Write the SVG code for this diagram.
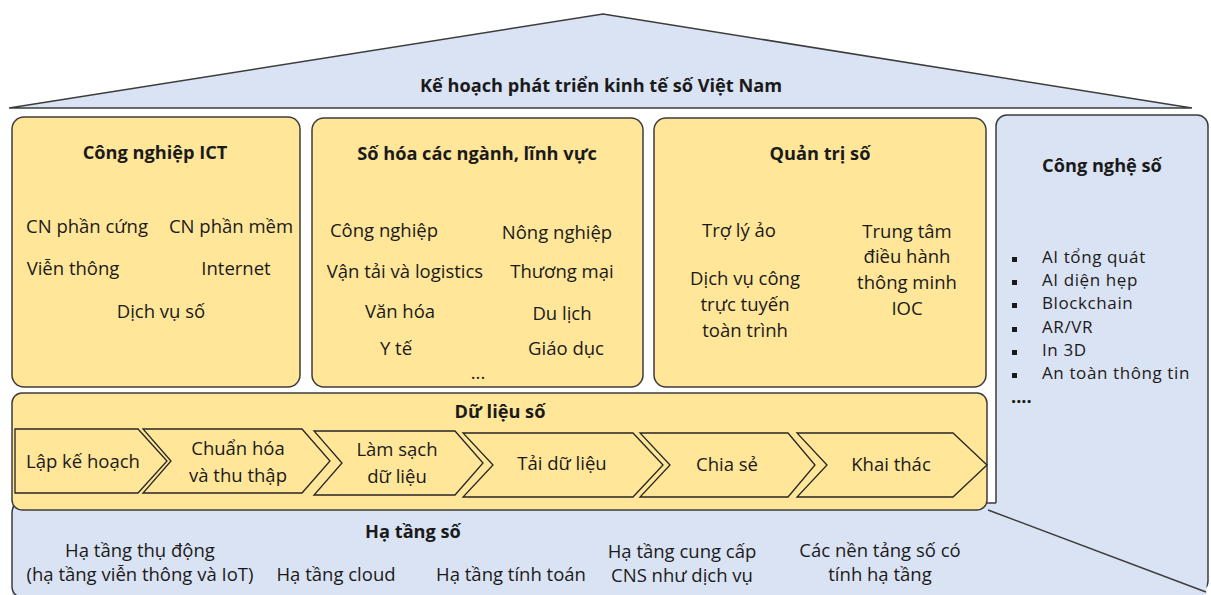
<svg xmlns="http://www.w3.org/2000/svg" width="1211" height="595" viewBox="0 0 1211 595">
<style>
text{font-family:"Open Sans","Noto Sans","DejaVu Sans",sans-serif;font-size:18.5px;fill:#1a1a1a;text-anchor:middle}
.b{font-weight:bold;font-size:18.2px}
.l{text-anchor:start}
.li{font-size:17px;letter-spacing:0.6px}
.y{fill:#FFE699;stroke:#3c3c3c;stroke-width:1.5}
.bl{fill:#DAE3F3;stroke:#3c3c3c;stroke-width:1.5}
.ch{fill:#FFE699;stroke:#262626;stroke-width:1.3}
.ln{fill:none;stroke:#3c3c3c;stroke-width:1.5}
</style>
<rect width="1211" height="595" fill="#ffffff"/>
<g id="roof">
<polygon class="bl" points="9,108 603,14 1192,108"/>
<text class="b" x="601" y="92">Kế hoạch phát triển kinh tế số Việt Nam</text>
</g>
<g id="cong-nghe-so">
<rect class="bl" x="996" y="115" width="212" height="477" rx="11"/>
</g>
<g id="ha-tang-so">
<rect x="12" y="503" width="1194.5" height="95" fill="#DAE3F3"/>
<path class="ln" d="M996,503 H22 Q12,503 12,513 V586 Q12,595 20,597"/>
<line class="ln" x1="988" y1="510" x2="1206" y2="592"/>
<text class="b" x="413" y="538">Hạ tầng số</text>
<text x="140" y="557">Hạ tầng thụ động</text>
<text x="140" y="581">(hạ tầng viễn thông và IoT)</text>
<text x="336" y="581">Hạ tầng cloud</text>
<text x="511" y="581">Hạ tầng tính toán</text>
<text x="682" y="558">Hạ tầng cung cấp</text>
<text x="682" y="582">CNS như dịch vụ</text>
<text x="880" y="557">Các nền tảng số có</text>
<text x="880" y="581">tính hạ tầng</text>
</g>
<g id="cong-nghe-so-text">
<text class="b" x="1102" y="172">Công nghệ số</text>
<rect x="1012" y="257" width="5" height="5" fill="#1a1a1a"/>
<rect x="1012" y="280" width="5" height="5" fill="#1a1a1a"/>
<rect x="1012" y="303" width="5" height="5" fill="#1a1a1a"/>
<rect x="1012" y="327" width="5" height="5" fill="#1a1a1a"/>
<rect x="1012" y="350" width="5" height="5" fill="#1a1a1a"/>
<rect x="1012" y="373" width="5" height="5" fill="#1a1a1a"/>
<text class="l li" x="1042" y="263">AI tổng quát</text>
<text class="l li" x="1042" y="286.2">AI diện hẹp</text>
<text class="l li" x="1042" y="309.4">Blockchain</text>
<text class="l li" x="1042" y="332.6">AR/VR</text>
<text class="l li" x="1042" y="355.8">In 3D</text>
<text class="l li" x="1042" y="379">An toàn thông tin</text>
<text class="l b" x="1011" y="403">....</text>
</g>
<g id="cong-nghiep-ict">
<rect class="y" x="12" y="117" width="288" height="270" rx="12"/>
<text class="b" x="155" y="159">Công nghiệp ICT</text>
<text x="87" y="233">CN phần cứng</text>
<text x="231" y="233">CN phần mềm</text>
<text x="73" y="275">Viễn thông</text>
<text x="236" y="275">Internet</text>
<text x="161" y="318">Dịch vụ số</text>
</g>
<g id="so-hoa">
<rect class="y" x="312" y="118" width="331" height="269" rx="12"/>
<text class="b" x="477" y="160">Số hóa các ngành, lĩnh vực</text>
<text x="384" y="237">Công nghiệp</text>
<text x="557" y="239">Nông nghiệp</text>
<text x="405" y="278">Vận tải và logistics</text>
<text x="562" y="278">Thương mại</text>
<text x="400" y="318">Văn hóa</text>
<text x="562" y="320">Du lịch</text>
<text x="396" y="355">Y tế</text>
<text x="566" y="355">Giáo dục</text>
<text x="478" y="379">...</text>
</g>
<g id="quan-tri-so">
<rect class="y" x="654" y="118" width="332" height="269" rx="12"/>
<text class="b" x="820" y="160">Quản trị số</text>
<text x="739" y="237">Trợ lý ảo</text>
<text x="745" y="285">Dịch vụ công</text>
<text x="745" y="311">trực tuyến</text>
<text x="745" y="337">toàn trình</text>
<text x="907" y="238">Trung tâm</text>
<text x="907" y="263">điều hành</text>
<text x="907" y="289">thông minh</text>
<text x="907" y="315">IOC</text>
</g>
<g id="du-lieu-so">
<rect class="y" x="12" y="393" width="975" height="117" rx="10"/>
<text class="b" x="500" y="418">Dữ liệu số</text>
</g>
<g id="connectors">
<g id="step-1"><polygon class="ch" points="15,429 138,429 167,461 138,493 15,493"/><text x="83" y="468">Lập kế hoạch</text></g>
<g id="step-2"><polygon class="ch" points="143,429 302,429 330,461 302,493 143,493 171,461"/><text x="238" y="455">Chuẩn hóa</text><text x="238" y="482">và thu thập</text></g>
<g id="step-3"><polygon class="ch" points="314,431 455,431 483,463 455,495 314,495 342,463"/><text x="397" y="456">Làm sạch</text><text x="397" y="483">dữ liệu</text></g>
<g id="step-4"><polygon class="ch" points="463,433 633,433 663,465 633,497 463,497 493,465"/><text x="562" y="470">Tải dữ liệu</text></g>
<g id="step-5"><polygon class="ch" points="640,433 788,433 815,465 788,497 640,497 670,465"/><text x="727" y="471">Chia sẻ</text></g>
<g id="step-6"><polygon class="ch" points="797,433 953,433 987,465 953,497 797,497 827,465"/><text x="891" y="471">Khai thác</text></g>
</g>
</svg>
